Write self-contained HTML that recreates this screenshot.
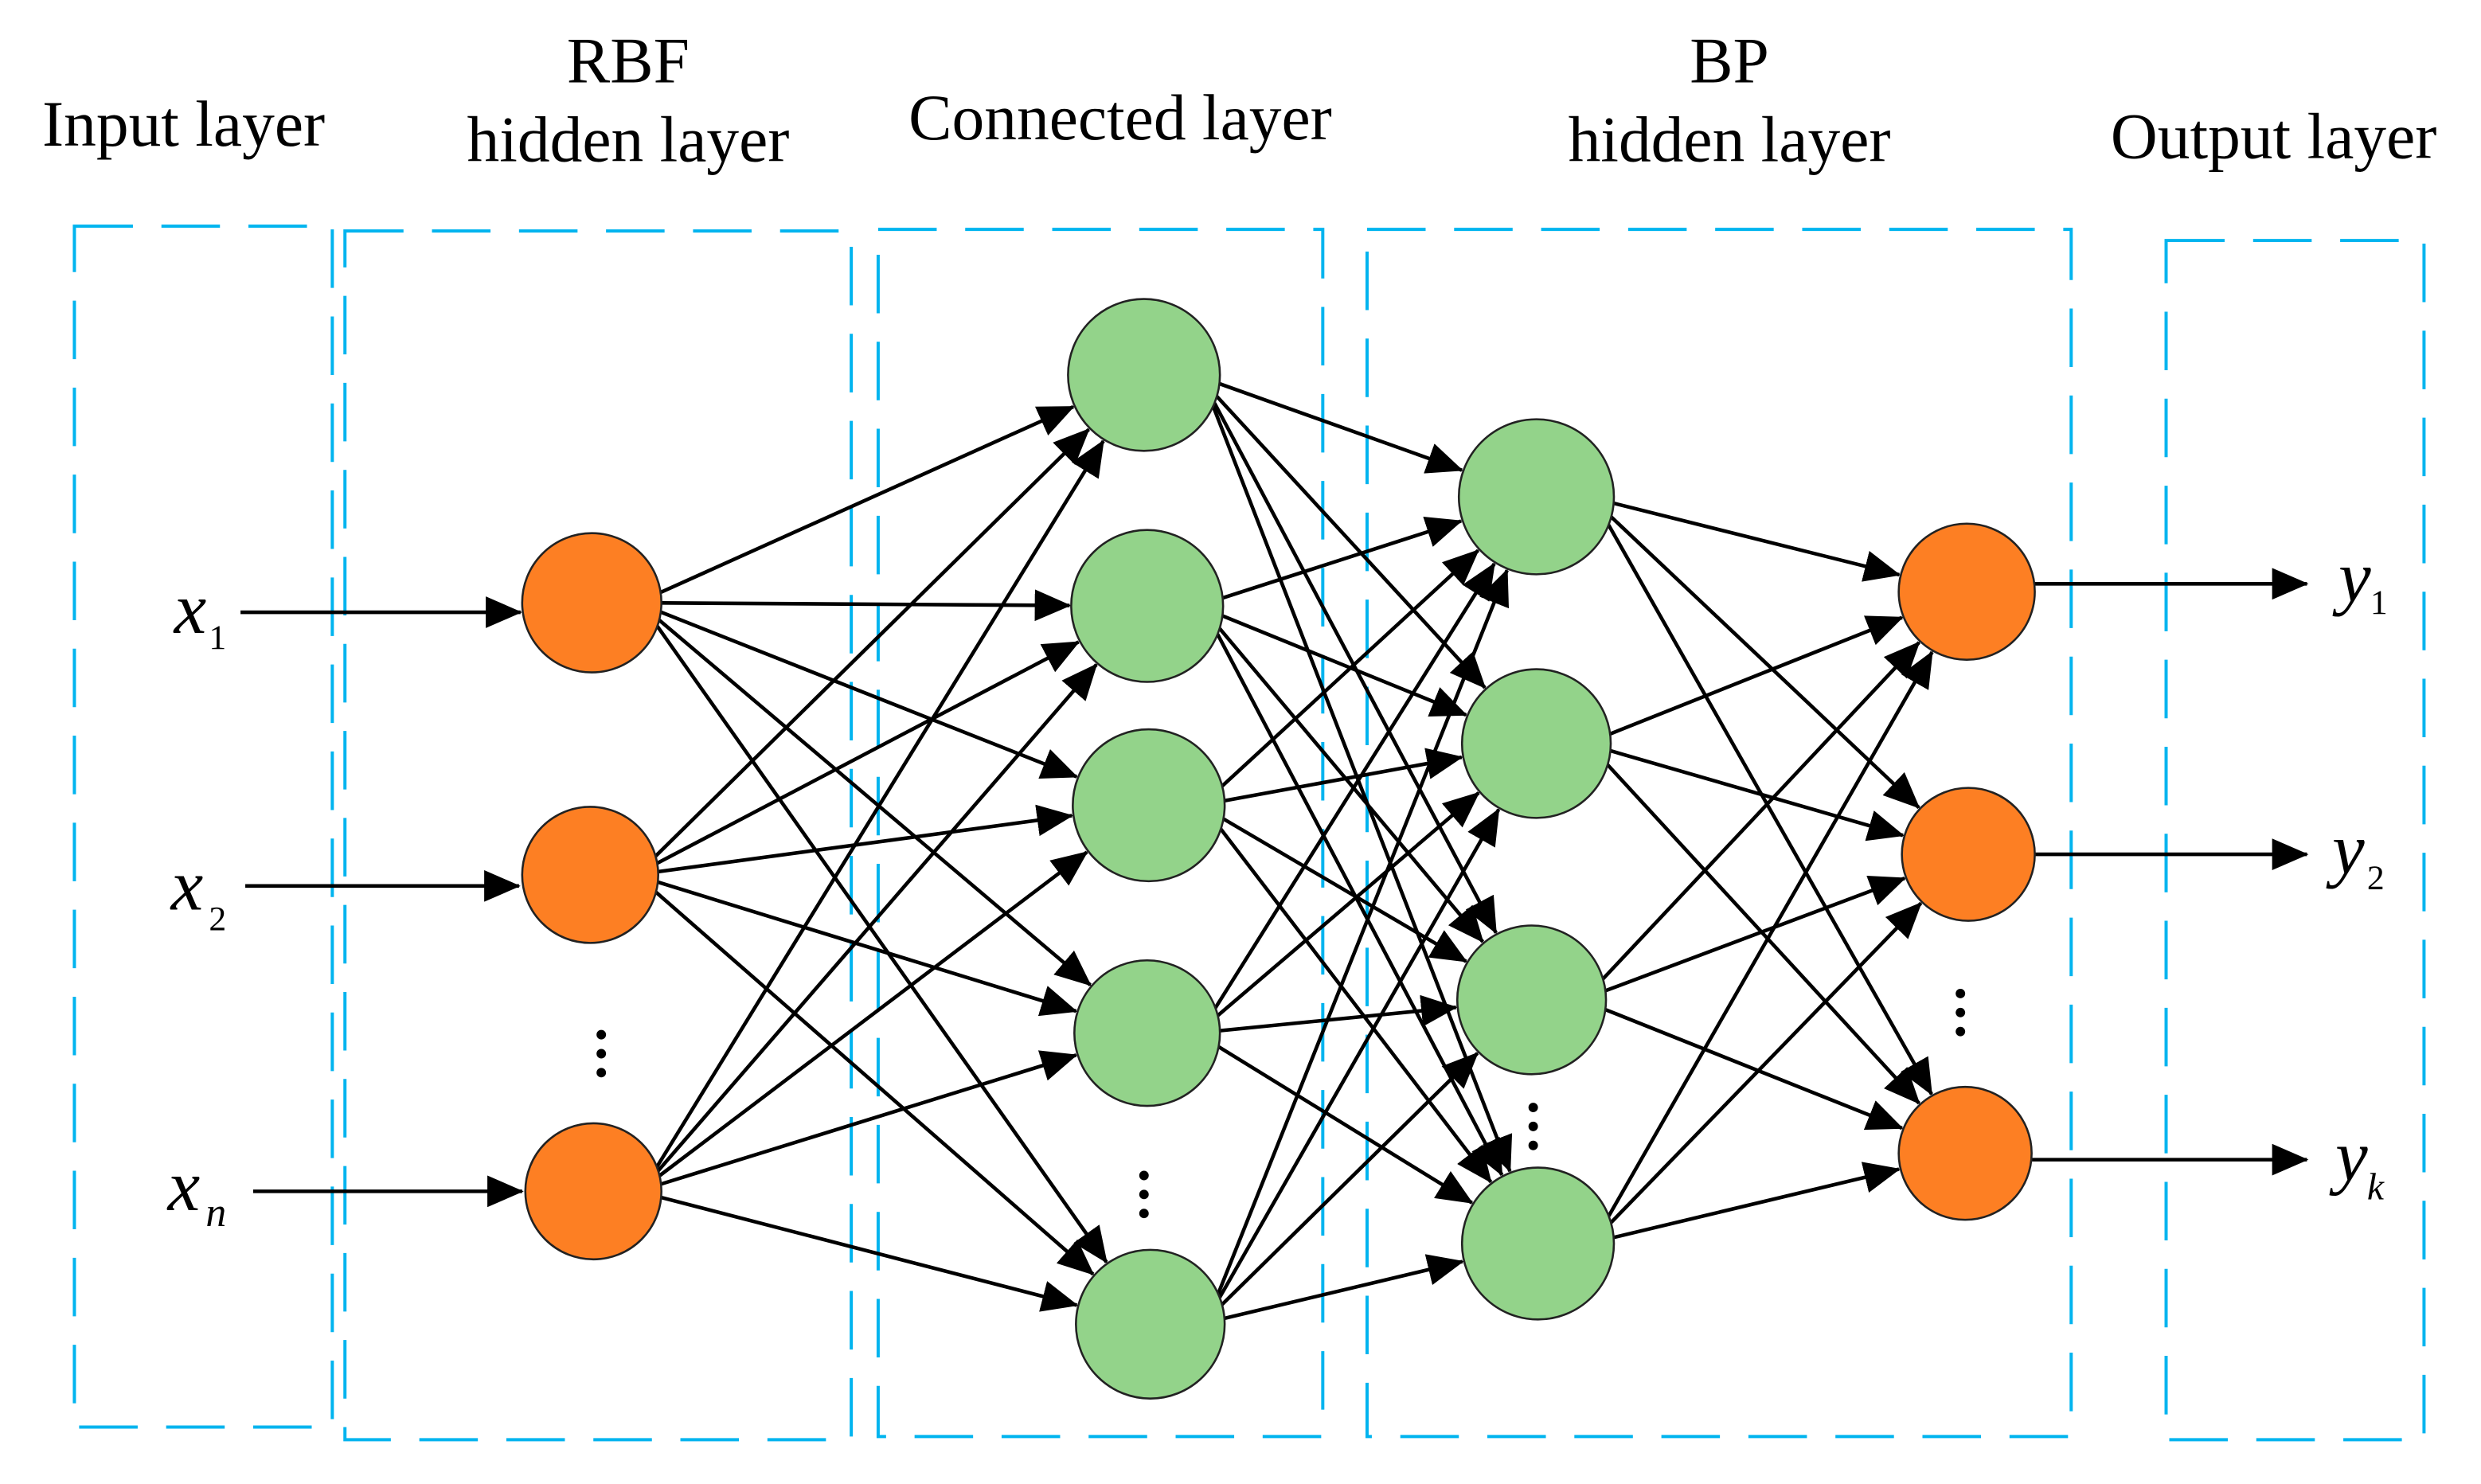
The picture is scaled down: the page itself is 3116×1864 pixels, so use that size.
<!DOCTYPE html>
<html><head><meta charset="utf-8"><style>
html,body{margin:0;padding:0;background:#fff;}
svg{display:block;}
text{font-family:"Liberation Serif",serif;fill:#000;}
</style></head><body>
<svg id="s" width="3116" height="1864" viewBox="0 0 1568 938" xmlns="http://www.w3.org/2000/svg">
<defs>
<marker id="a" markerUnits="userSpaceOnUse" markerWidth="24" markerHeight="20" refX="22" refY="10" orient="auto">
<path d="M0,0 L23,10 L0,20 Z" fill="#000"/>
</marker>
</defs>
<g fill="none" stroke="#00b4ef" stroke-width="2" stroke-dasharray="37,18">
<rect x="47" y="143" width="163" height="759"/>
<rect x="218" y="146" width="320" height="764"/>
<rect x="555" y="145" width="281" height="763"/>
<rect x="864" y="145" width="445" height="763"/>
<rect x="1369" y="152" width="163" height="758"/>
</g>
<g font-size="41" text-anchor="middle">
<text x="116" y="92">Input layer</text>
<text x="397" y="52">RBF</text>
<text x="397" y="102">hidden layer</text>
<text x="708" y="88">Connected layer</text>
<text x="1093" y="52">BP</text>
<text x="1093" y="102">hidden layer</text>
<text x="1437" y="100">Output layer</text>
</g>
<g id="edges" stroke="#000" stroke-width="2.3" fill="none"></g>
<g id="nodes" stroke="#222" stroke-width="1.3"></g>
<g font-style="italic" font-size="46">
<text x="110" y="400">x</text><text x="132" y="410" font-size="22" font-style="normal">1</text>
<text x="108" y="575">x</text><text x="132" y="588" font-size="22" font-style="normal">2</text>
<text x="106" y="765">x</text><text x="130" y="775" font-size="26">n</text>
<text x="1478" y="380">y</text><text x="1498" y="388" font-size="22" font-style="normal">1</text>
<text x="1474" y="552">y</text><text x="1496" y="562" font-size="22" font-style="normal">2</text>
<text x="1476" y="746">y</text><text x="1496" y="758" font-size="24">k</text>
</g>
<g fill="#000">
<circle cx="380" cy="654" r="3"/><circle cx="380" cy="666" r="3"/><circle cx="380" cy="678" r="3"/>
<circle cx="723" cy="743" r="3"/><circle cx="723" cy="755" r="3"/><circle cx="723" cy="767" r="3"/>
<circle cx="969" cy="700" r="3"/><circle cx="969" cy="712" r="3"/><circle cx="969" cy="724" r="3"/>
<circle cx="1239" cy="628" r="3"/><circle cx="1239" cy="640" r="3"/><circle cx="1239" cy="652" r="3"/>
</g>
</svg>
<script>
var NS="http://www.w3.org/2000/svg";
var rbf=[[374,381,44],[373,553,43],[375,753,43]];
var con=[[723,237,48],[725,383,48],[726,509,48],[725,653,46],[727,837,47]];
var bp=[[971,314,49],[971,470,47],[968,632,47],[972,786,48]];
var out=[[1243,374,43],[1244,540,42],[1242,729,42]];
var E=document.getElementById("edges"),N=document.getElementById("nodes");
function line(x1,y1,x2,y2,m){var l=document.createElementNS(NS,"line");l.setAttribute("x1",x1);l.setAttribute("y1",y1);l.setAttribute("x2",x2);l.setAttribute("y2",y2);if(m)l.setAttribute("marker-end","url(#a)");E.appendChild(l);}
function conn(A,B){A.forEach(function(a){B.forEach(function(b){var dx=b[0]-a[0],dy=b[1]-a[1],d=Math.sqrt(dx*dx+dy*dy),ux=dx/d,uy=dy/d;
var sx=ux+1.6,sy=uy,sd=Math.sqrt(sx*sx+sy*sy);sx/=sd;sy/=sd;
var x1=a[0]+sx*a[2],y1=a[1]+sy*a[2];
dx=b[0]-x1;dy=b[1]-y1;d=Math.sqrt(dx*dx+dy*dy);ux=dx/d;uy=dy/d;
line(x1,y1,b[0]-ux*(b[2]+1),b[1]-uy*(b[2]+1),true);});});}
conn(rbf,con);conn(con,bp);conn(bp,out);
line(152,387,329,387,true);line(155,560,328,560,true);line(160,753,330,753,true);
line(1286,369,1458,369,true);line(1286,540,1458,540,true);line(1284,733,1458,733,true);
function nodes(L,c){L.forEach(function(n){var e=document.createElementNS(NS,"circle");e.setAttribute("cx",n[0]);e.setAttribute("cy",n[1]);e.setAttribute("r",n[2]);e.setAttribute("fill",c);N.appendChild(e);});}
nodes(rbf,"#fd7f23");nodes(con,"#93d38a");nodes(bp,"#93d38a");nodes(out,"#fd7f23");
</script>
</body></html>
